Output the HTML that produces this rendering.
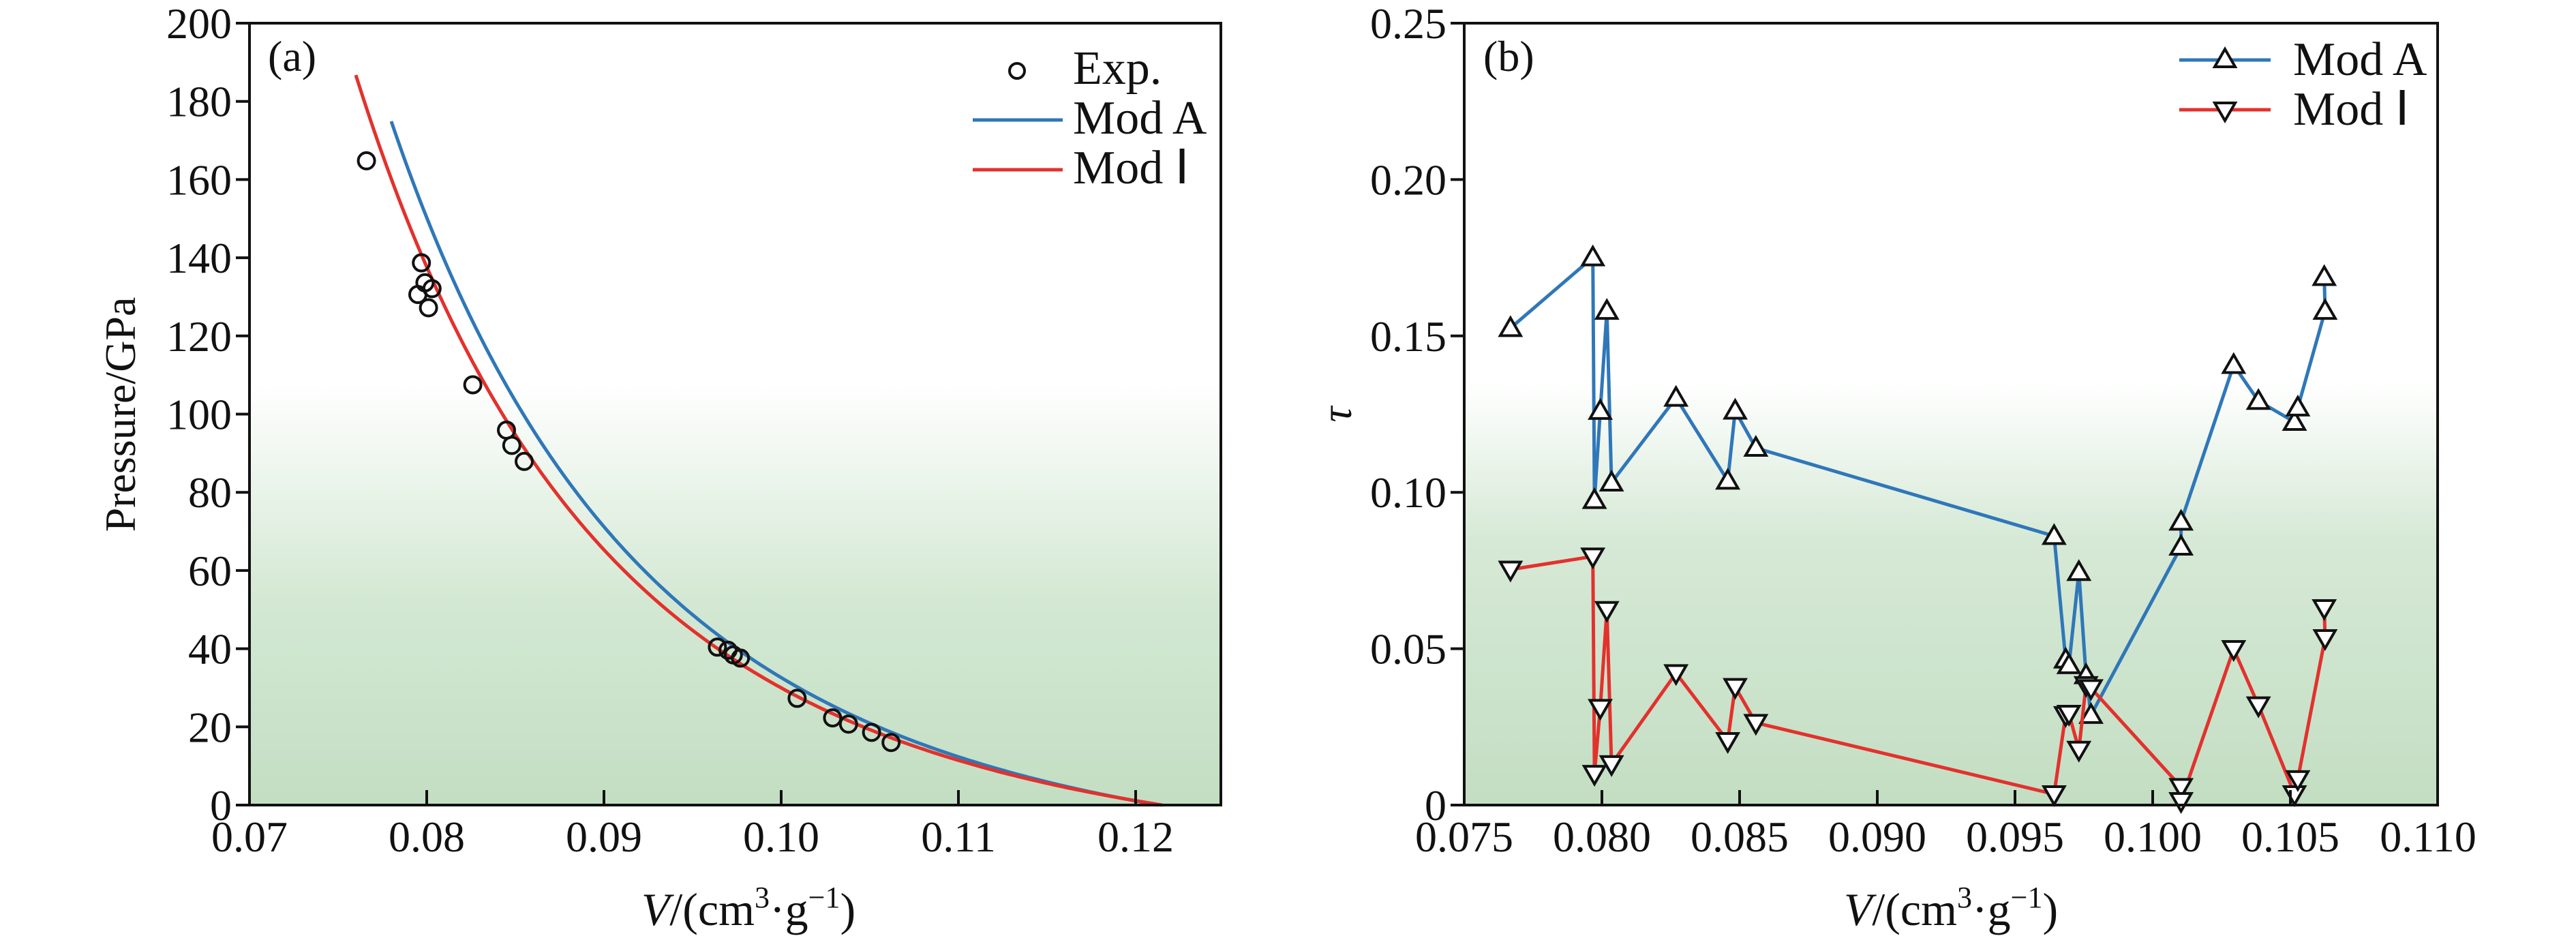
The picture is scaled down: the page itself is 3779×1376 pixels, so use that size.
<!DOCTYPE html>
<html><head><meta charset="utf-8"><style>
html,body{margin:0;padding:0;background:#fff;}
svg{display:block;font-family:"Liberation Serif",serif;}
</style></head><body>
<svg id="s" width="3779" height="1376" viewBox="0 0 3779 1376" xmlns="http://www.w3.org/2000/svg">
<defs>
<linearGradient id="g1" x1="0" y1="0" x2="0" y2="1">
<stop offset="0" stop-color="#ffffff"/><stop offset="0.46" stop-color="#ffffff"/>
<stop offset="0.74" stop-color="#d3e8d3"/><stop offset="1" stop-color="#c3dec3"/>
</linearGradient>
<linearGradient id="g2" x1="0" y1="0" x2="0" y2="1">
<stop offset="0" stop-color="#ffffff"/><stop offset="0.46" stop-color="#ffffff"/>
<stop offset="0.66" stop-color="#d6e9d6"/><stop offset="1" stop-color="#c3dec3"/>
</linearGradient>
</defs>
<rect x="366" y="34" width="1425" height="1147" fill="url(#g1)"/>
<rect x="2148" y="34" width="1428" height="1147" fill="url(#g2)"/>
<g id="A"></g><g id="B"></g>
<rect x="366" y="34" width="1425" height="1147" fill="none" stroke="#111" stroke-width="4"/>
<rect x="2148" y="34" width="1428" height="1147" fill="none" stroke="#111" stroke-width="4"/>
<g font-size="64" fill="#111">
<text x="393" y="104">(a)</text>
<text x="2176" y="104">(b)</text>
<text x="1574" y="123" font-size="70">Exp.</text>
<text x="1574" y="196" font-size="70">Mod A</text>
<text x="1574" y="269" font-size="70">Mod Ⅰ</text>
<text x="3364" y="110" font-size="70">Mod A</text>
<text x="3364" y="183" font-size="70">Mod Ⅰ</text>
<text transform="translate(198,608) rotate(-90)" text-anchor="middle">Pressure/GPa</text>
<text transform="translate(1982,608) rotate(-90)" text-anchor="middle" font-style="italic">τ</text>
<text x="1098" y="1357" text-anchor="middle" font-size="68"><tspan font-style="italic">V</tspan>/(cm<tspan font-size="44" dy="-26">3</tspan><tspan dy="26">·g</tspan><tspan font-size="44" dy="-26">−1</tspan><tspan dy="26">)</tspan></text>
<text x="2862" y="1357" text-anchor="middle" font-size="68"><tspan font-style="italic">V</tspan>/(cm<tspan font-size="44" dy="-26">3</tspan><tspan dy="26">·g</tspan><tspan font-size="44" dy="-26">−1</tspan><tspan dy="26">)</tspan></text>
</g>
<circle cx="1492" cy="104" r="11" fill="none" stroke="#111" stroke-width="4"/>
<line x1="1427" y1="176" x2="1559" y2="176" stroke="#2f77b8" stroke-width="5"/>
<line x1="1427" y1="249" x2="1559" y2="249" stroke="#e3312d" stroke-width="5"/>
<line x1="3197" y1="88" x2="3331" y2="88" stroke="#2f77b8" stroke-width="5"/>
<line x1="3197" y1="161" x2="3331" y2="161" stroke="#e3312d" stroke-width="5"/>
<polygon points="3264,72 3279,98 3249,98" fill="#fff" stroke="#111" stroke-width="4"/>
<polygon points="3264,177 3279,151 3249,151" fill="#fff" stroke="#111" stroke-width="4"/>
</svg>
<script>
var NS="http://www.w3.org/2000/svg",S=document.getElementById('s');
function el(p,t,a,txt){var e=document.createElementNS(NS,t);for(var k in a)e.setAttribute(k,a[k]);if(txt!=null)e.textContent=txt;p.appendChild(e);return e;}
var A=document.getElementById('A'),B=document.getElementById('B');
function ax(v){return 366+(v-0.07)/0.01*260;}
function ay(p){return 1181-p*5.735;}
for(var i=0;i<=10;i++){var y=ay(i*20);el(S,'line',{x1:346,y1:y,x2:366,y2:y,stroke:'#111','stroke-width':4});
el(S,'text',{x:340,y:y+22,'text-anchor':'end','font-size':64,fill:'#111'},String(i*20));}
for(var i=0;i<=5;i++){var v=0.07+i*0.01,x=ax(v);if(i>0)el(S,'line',{x1:x,y1:1159,x2:x,y2:1181,stroke:'#111','stroke-width':4});
el(S,'text',{x:x,y:1249,'text-anchor':'middle','font-size':64,fill:'#111'},v.toFixed(2));}
function curve(V0,a,n,v1,col){var d='';for(var v=v1;v<=V0;v+=0.0002){var p=a*(Math.pow(V0/v,n)-1);d+=(d?'L':'M')+ax(v).toFixed(1)+','+ay(p).toFixed(1);}
d+='L'+ax(V0)+','+ay(0);el(A,'path',{d:d,fill:'none',stroke:col,'stroke-width':5});}
curve(0.1213,17.75,5.4,0.078,'#2f77b8');
curve(0.1215,16.1,5.4,0.0760,'#e3312d');
var ex=[[.0766,164.8],[.0797,138.7],[.0795,130.6],[.0799,133.6],[.0803,132.1],[.0801,127.2],[.0826,107.5],[.0845,95.9],[.0848,92.0],[.0855,87.9],[.0964,40.4],[.0970,39.6],[.0973,38.4],[.0977,37.6],[.1009,27.3],[.1029,22.3],[.1038,20.7],[.1051,18.6],[.1062,16.0]];
ex.forEach(function(p){el(A,'circle',{cx:ax(p[0]),cy:ay(p[1]),r:12,fill:'none',stroke:'#111','stroke-width':4});});
function bx(v){return 2148+(v-0.075)/0.005*202;}
function by(t){return 1181-t/0.25*1147;}
['0','0.05','0.10','0.15','0.20','0.25'].forEach(function(s,i){var y=by(i*0.05);el(S,'line',{x1:2128,y1:y,x2:2148,y2:y,stroke:'#111','stroke-width':4});
el(S,'text',{x:2122,y:y+22,'text-anchor':'end','font-size':64,fill:'#111'},s);});
for(var i=0;i<=7;i++){var v=0.075+i*0.005,x=bx(v);if(i>0&&i<7)el(S,'line',{x1:x,y1:1159,x2:x,y2:1181,stroke:'#111','stroke-width':4});
el(S,'text',{x:x,y:1249,'text-anchor':'middle','font-size':64,fill:'#111'},v.toFixed(3));}
var X=[.07668,.07967,.07973,.07994,.08018,.08035,.08269,.08457,.08484,.08559,.09642,.09684,.09696,.09732,.09758,.09776,.10103,.10103,.10294,.10384,.10515,.10527,.10626,.10623];
var YA=[.1525,.1751,.0975,.1260,.1580,.1031,.1302,.1037,.1261,.1142,.0860,.0465,.0447,.0745,.0415,.0288,.0826,.0906,.1407,.1292,.1225,.1271,.1580,.1688];
var YI=[.0753,.0795,.0100,.0311,.0624,.0131,.0422,.0205,.0378,.0263,.0035,.0288,.0292,.0177,.0384,.0374,.0058,.0013,.0499,.0319,.0035,.0083,.0534,.0630];
function series(Y,col,up){var d='';for(var i=0;i<X.length;i++)d+=(i?'L':'M')+bx(X[i]).toFixed(1)+','+by(Y[i]).toFixed(1);
el(B,'path',{d:d,fill:'none',stroke:col,'stroke-width':5,'stroke-linejoin':'round'});
for(var i=0;i<X.length;i++){var x=bx(X[i]),y=by(Y[i]);var pts=up?[x,y-15,x+15,y+11,x-15,y+11]:[x,y+15,x+15,y-11,x-15,y-11];
el(B,'polygon',{points:pts.join(','),fill:'#fff',stroke:'#111','stroke-width':4});}}
series(YA,'#2f77b8',true);series(YI,'#e3312d',false);
</script>
</body></html>
